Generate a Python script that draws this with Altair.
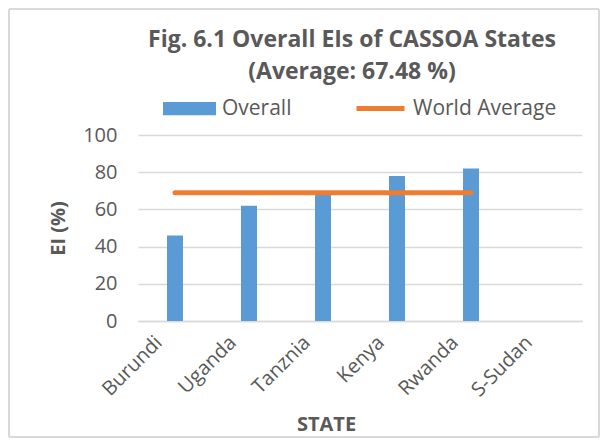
import altair as alt
import pandas as pd

states = ["Burundi", "Uganda", "Tanznia", "Kenya", "Rwanda", "S-Sudan"]
overall = [46, 62, 68, 78, 82, None]
world_states = ["Burundi", "Uganda", "Tanznia", "Kenya", "Rwanda"]
world_avg = [69, 69, 69, 69, 69]
y_ticks = [0, 20, 40, 60, 80, 100]
title_lines = ["Fig. 6.1 Overall EIs of CASSOA States", "(Average: 67.48 %)"]

FONT = "Open Sans"
TXT = "#595959"
GRID = "#D9D9D9"
BLUE = "#5B9BD5"
ORANGE = "#ED7D31"

bars_df = pd.DataFrame({"state": states, "value": overall, "series": ["Overall"] * len(states)})
line_df = pd.DataFrame({"state": world_states, "value": world_avg, "series": ["World Average"] * len(world_states)})
one_df = pd.DataFrame({"k": [0]})

x_scale = alt.Scale(domain=states, paddingInner=0, paddingOuter=0)
y_scale = alt.Scale(domain=[0, 100], nice=False)


def x_axis():
    return alt.Axis(
        title="STATE", labelAngle=-45, labelFontSize=20, labelColor=TXT, labelFont=FONT,
        labelPadding=11, labelOffset=-23, ticks=False, grid=False, domainColor=GRID, domainWidth=1.5,
        labelOverlap=False,
        titleFontSize=20, titleFontWeight="bold", titleColor=TXT, titleFont=FONT,
        titleX=188, titleY=93, titleAnchor="start", titleAlign="center",
    )


def y_axis():
    return alt.Axis(
        title="EI (%)", values=y_ticks, tickCount=6, domain=False, ticks=False,
        labelFontSize=20, labelColor=TXT, labelFont=FONT, labelPadding=21, labelOverlap=False,
        grid=True, gridColor=GRID, gridWidth=1.5,
        titleFontSize=20, titleFontWeight="bold", titleColor=TXT, titleFont=FONT, titlePadding=14,
    )


def edge(x1, x2, y1, y2):
    return alt.Chart(one_df).mark_rule(color=GRID, strokeWidth=2).encode(
        x=alt.value(x1), x2=alt.value(x2), y=alt.value(y1), y2=alt.value(y2)
    )


frame = [
    edge(-129, 461, -126, -126),
    edge(-129, 461, 302, 302),
    edge(-129, -129, -126, 302),
    edge(461, 461, -126, 302),
]

title1 = alt.Chart(one_df).mark_text(fontSize=23, fontWeight="bold", color=TXT, font=FONT,
                                      align="center", baseline="middle").encode(
    x=alt.value(214), y=alt.value(-95), text=alt.value(title_lines[0])
)
title2 = alt.Chart(one_df).mark_text(fontSize=23, fontWeight="bold", color=TXT, font=FONT,
                                      align="center", baseline="middle").encode(
    x=alt.value(214), y=alt.value(-63), text=alt.value(title_lines[1])
)

bars = alt.Chart(bars_df).mark_bar(size=16).encode(
    x=alt.X("state:N", scale=x_scale, axis=x_axis(), sort=states),
    y=alt.Y("value:Q", scale=y_scale, axis=y_axis()),
    fill=alt.Fill("series:N", scale=alt.Scale(domain=["Overall"], range=[BLUE]),
                  legend=alt.Legend(orient="none", legendX=25, legendY=-53, title=None, padding=0,
                                    symbolType="M-1,-0.25H1V0.25H-1Z", symbolSize=2809,
                                    symbolStrokeWidth=0, labelFontSize=21, labelColor=TXT,
                                    labelFont=FONT, labelOffset=6)),
)

line = alt.Chart(line_df).mark_line(strokeWidth=5, strokeCap="round").encode(
    x=alt.X("state:N", scale=x_scale, axis=x_axis(), sort=states),
    y=alt.Y("value:Q", scale=y_scale, axis=y_axis()),
    stroke=alt.Stroke("series:N", scale=alt.Scale(domain=["World Average"], range=[ORANGE]),
                      legend=alt.Legend(orient="none", legendX=216, legendY=-53, title=None, padding=0,
                                        symbolType="stroke", symbolSize=2304, symbolStrokeWidth=5,
                                        labelFontSize=21, labelColor=TXT, labelFont=FONT, labelOffset=6)),
)

chart = alt.layer(*frame, title1, title2, bars, line).properties(
    width=444, height=186,
    padding={"left": 130, "top": 127, "right": 19, "bottom": 119},
    autosize=alt.AutoSizeParams(type="none"),
).configure(
    font=FONT,
    view=alt.ViewConfig(stroke="transparent", strokeWidth=0),
    style={"cell": {"stroke": "transparent", "strokeWidth": 0}},
    axisX=alt.AxisConfig(grid=False),
    axisY=alt.AxisConfig(domain=False),
)

chart.save("out.html", embed_options={"renderer": "svg", "actions": False})
